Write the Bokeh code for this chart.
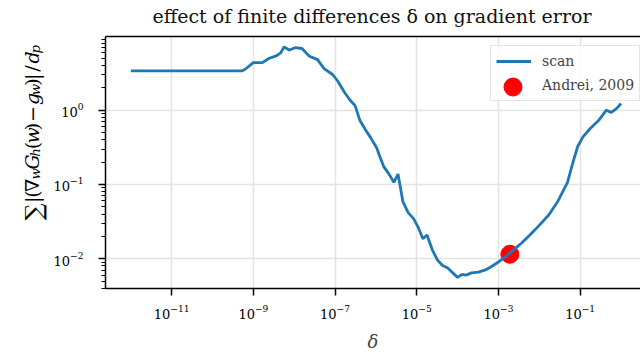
import math
from bokeh.plotting import figure
from bokeh.layouts import row, column
from bokeh.models import Range1d, FixedTicker, LogAxis, Legend, LegendItem
from bokeh.core.properties import value
from bokeh.embed import file_html
from bokeh.resources import INLINE

# ---- data ----
delta = [1.0e-12, 5.2e-10, 6.3e-10, 1.0e-9, 1.66e-9, 2.45e-9, 3.63e-9, 4.68e-9, 5.62e-9,
         7.59e-9, 1.05e-8, 1.55e-8, 2.29e-8, 3.72e-8, 5.37e-8, 8.71e-8, 1.17e-7, 1.74e-7,
         2.29e-7, 3.09e-7, 4.07e-7, 5.5e-7, 7.41e-7, 1.05e-6, 1.2e-6, 1.55e-6, 2.04e-6,
         2.75e-6, 3.47e-6, 4.07e-6, 4.57e-6, 6.17e-6, 8.32e-6, 1.07e-5, 1.41e-5, 1.78e-5,
         2.4e-5, 3.24e-5, 4.27e-5, 5.62e-5, 7.59e-5, 1.0e-4, 1.29e-4, 1.62e-4, 2.19e-4,
         3.24e-4, 4.79e-4, 6.92e-4, 1.02e-3, 1.51e-3, 2.45e-3, 3.63e-3, 5.89e-3, 9.55e-3,
         0.017, 0.0275, 0.049, 0.066, 0.087, 0.117, 0.174, 0.282, 0.437, 0.575, 0.776, 1.0]
error = [3.37, 3.37, 3.55, 4.37, 4.37, 5.0, 5.37, 5.89, 7.08,
         6.46, 6.92, 6.76, 5.37, 4.79, 3.63, 3.02, 2.45, 1.70,
         1.38, 1.15, 0.724, 0.55, 0.427, 0.309, 0.251, 0.174, 0.141,
         0.107, 0.138, 0.0851, 0.0589, 0.0417, 0.0347, 0.0269, 0.0186, 0.0209,
         0.0132, 0.00955, 0.00813, 0.00759, 0.00646, 0.00562, 0.00617, 0.00603, 0.00646,
         0.00661, 0.00708, 0.00794, 0.00912, 0.0107, 0.0135, 0.0162, 0.0209, 0.0275,
         0.0389, 0.0575, 0.107, 0.195, 0.324, 0.437, 0.562, 0.724, 1.0, 0.933, 1.05, 1.23]
andrei_delta = [1.9e-3]
andrei_error = [0.0115]

x_ticks = [1e-11, 1e-9, 1e-7, 1e-5, 1e-3, 1e-1]
y_ticks = [1e-2, 1e-1, 1e0, 1e1]
y_minor = [m * 10.0 ** e for e in (-3, -2, -1, 0) for m in range(2, 10)]

title_text = "effect of finite differences δ on gradient error"
x_label = "δ"
series_labels = ["scan", "Andrei, 2009"]

SERIF = "DejaVu Serif"
BLUE = "#1f77b4"
W, H, TOP, LEFT = 640, 356, 35, 50


def blank(width, height):
    f = figure(width=width, height=height, x_range=Range1d(0, width), y_range=Range1d(0, height),
               output_backend="svg", toolbar_location=None,
               x_axis_location=None, y_axis_location=None,
               min_border_left=0, min_border_right=0, min_border_top=0, min_border_bottom=0)
    f.grid.visible = False
    f.outline_line_color = None
    f.background_fill_color = "white"
    f.border_fill_color = "white"
    return f


# ---- main plot ----
p = figure(width=W - LEFT, height=H - TOP, x_axis_type="log", y_axis_type="log",
           x_range=Range1d(2.4e-13, 3.0), y_range=Range1d(0.00398, 9.8),
           output_backend="svg", toolbar_location=None,
           min_border_left=53, min_border_right=0, min_border_top=1, min_border_bottom=68)
p.outline_line_color = None
p.background_fill_color = "white"
p.border_fill_color = "white"

xt = FixedTicker(ticks=x_ticks, minor_ticks=[])
yt = FixedTicker(ticks=y_ticks, minor_ticks=y_minor)
p.xaxis.ticker = xt
p.yaxis.ticker = yt
p.xgrid.ticker = xt
p.ygrid.ticker = yt
for g in (p.xgrid[0], p.ygrid[0]):
    g.grid_line_color = "#e3e3e3"
    g.grid_line_width = 1.5

for ax in (p.xaxis[0], p.yaxis[0]):
    ax.axis_line_width = 1.5
    ax.axis_line_color = "black"
    ax.major_tick_line_width = 1.5
    ax.minor_tick_line_width = 1
    ax.major_tick_in = 0
    ax.major_tick_out = 7
    ax.minor_tick_in = 0
    ax.minor_tick_out = 4
    ax.major_label_text_font = SERIF
    ax.major_label_text_font_size = "13px"
    ax.major_label_text_color = "black"
p.xaxis.major_label_standoff = 9
p.yaxis.major_label_standoff = 15
p.xaxis.axis_label = x_label
p.xaxis.axis_label_text_font = SERIF
p.xaxis.axis_label_text_font_size = "18px"
p.xaxis.axis_label_text_font_style = "italic"
p.xaxis.axis_label_standoff = 9

top = LogAxis(ticker=FixedTicker(ticks=[], minor_ticks=[]), axis_line_width=1.5,
              major_tick_out=0, minor_tick_out=0, major_tick_in=0, minor_tick_in=0,
              major_label_standoff=0)
p.add_layout(top, "above")

dot_r = p.scatter(andrei_delta, andrei_error, size=18, color="red")
line_r = p.line(delta, error, line_color=BLUE, line_width=2.8)

legA = Legend(items=[LegendItem(label=series_labels[0], renderers=[line_r]),
                     LegendItem(label=series_labels[1], renderers=[dot_r])],
              location=(385, 187), padding=5, spacing=4, margin=0,
              glyph_width=35, glyph_height=20, label_height=20, label_standoff=11,
              label_text_font=SERIF, label_text_font_size="14px",
              border_line_color="#cccccc", border_line_width=1,
              background_fill_color="white", background_fill_alpha=0.8)
p.add_layout(legA)
legB = Legend(items=[LegendItem(label="", renderers=[dot_r])],
              location=(385, 179.5), padding=0, spacing=0, margin=0,
              glyph_width=45, glyph_height=45, label_height=45, label_standoff=0,
              label_text_font_size="1px",
              border_line_color=None, background_fill_alpha=0)
p.add_layout(legB)

# ---- title strip ----
t = blank(W, TOP)
t.text(x=[(LEFT + 53 + W) / 2], y=[TOP - 15], text=[title_text], text_align="center",
       text_baseline="alphabetic", text_font=value(SERIF), text_font_size="19px",
       text_color="#111111")

# ---- y-axis label strip (rotated math text built from pieces) ----
q = blank(LEFT, H - TOP)
FS = 19
SUB = 0.70
# (text, style, size scale, baseline shift px, advance px at 18px)
pieces = [("∑", "normal", 1.25, 2.0, 21.0), ("|", "normal", 1.0, 0.0, 6.5),
          ("(", "normal", 1.0, 0.0, 7.0), ("∇", "normal", 1.0, 0.0, 15.0),
          ("w", "italic", SUB, 4.0, 12.0), ("G", "italic", 1.0, 0.0, 15.5),
          ("h", "italic", SUB, 4.0, 9.0), ("(", "normal", 1.0, 0.0, 7.0),
          ("w", "italic", 1.0, 0.0, 15.8), (")", "normal", 1.0, 0.0, 10.0),
          ("−", "normal", 1.0, 0.0, 20.5), ("g", "italic", 1.0, 0.0, 11.8),
          ("w", "italic", SUB, 4.0, 11.5), (")", "normal", 1.0, 0.0, 7.0),
          ("|", "normal", 1.0, 0.0, 10.0), ("/", "normal", 1.0, 0.0, 10.0),
          ("d", "italic", 1.0, 0.0, 12.0), ("p", "italic", SUB, 4.0, 8.5)]
k = FS / 18.0
total = sum(a for *_, a in pieces) * k
ypos = (H - 158.5) - total / 2
for txt, style, scale, shift, adv in pieces:
    size = FS * scale
    q.text(x=[31 + shift], y=[ypos], text=[txt], angle=math.pi / 2,
           text_align="left", text_baseline="alphabetic",
           text_font=value(SERIF), text_font_size=f"{size:.1f}px",
           text_font_style=style, text_color="black")
    ypos += adv * k

layout = column(t, row(q, p))
open("out.html", "w").write(file_html(layout, INLINE))
